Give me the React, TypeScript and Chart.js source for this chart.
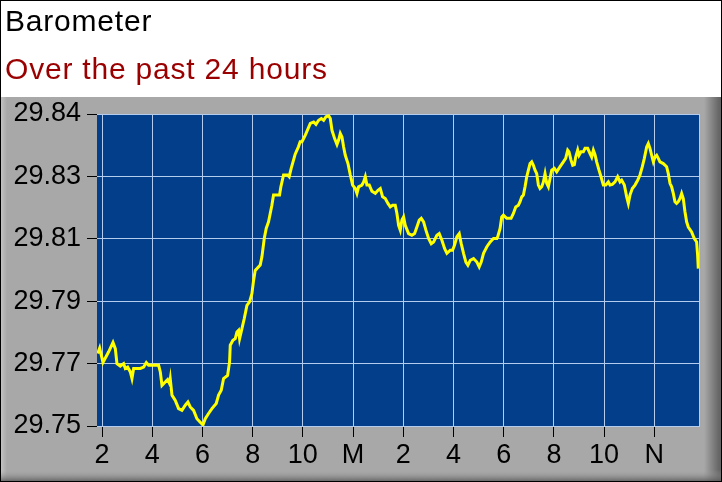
import { useEffect, useRef } from "react"
import { Chart, registerables, type ChartConfiguration, type Plugin } from "chart.js"

Chart.register(...registerables)

// time of reading, in hours since midnight of the first day (24 = midnight)
const hours = [
  13.826, 13.906, 14.038, 14.264, 14.437, 14.529, 14.596, 14.729, 14.861, 14.928,
  15.021, 15.127, 15.193, 15.259, 15.525, 15.658, 15.764, 15.857, 16.056, 16.255,
  16.322, 16.388, 16.52, 16.613, 16.693, 16.719, 16.786, 16.918, 17.051, 17.184,
  17.316, 17.422, 17.515, 17.648, 17.781, 17.913, 18.02, 18.113, 18.245, 18.378,
  18.55, 18.643, 18.749, 18.842, 19.001, 19.081, 19.108, 19.214, 19.307, 19.374,
  19.44, 19.48, 19.573, 19.666, 19.772, 19.878, 19.971, 20.037, 20.103, 20.302,
  20.369, 20.462, 20.54, 20.633, 20.766, 20.832, 21.071, 21.124, 21.23, 21.389,
  21.455, 21.535, 21.628, 21.694, 21.827, 21.893, 21.965, 22.098, 22.297, 22.43,
  22.523, 22.629, 22.735, 22.828, 22.921, 23.027, 23.093, 23.16, 23.266, 23.359,
  23.425, 23.491, 23.558, 23.624, 23.69, 23.797, 23.89, 23.982, 24.089, 24.155,
  24.221, 24.354, 24.42, 24.487, 24.553, 24.646, 24.752, 24.885, 24.991, 25.084,
  25.177, 25.283, 25.389, 25.482, 25.575, 25.681, 25.747, 25.814, 25.88, 25.946,
  26.013, 26.079, 26.212, 26.344, 26.451, 26.543, 26.636, 26.716, 26.809, 26.902,
  27.008, 27.114, 27.207, 27.34, 27.432, 27.539, 27.645, 27.738, 27.871, 27.963,
  28.043, 28.136, 28.229, 28.308, 28.401, 28.494, 28.574, 28.667, 28.799, 28.932,
  29.025, 29.105, 29.197, 29.33, 29.463, 29.595, 29.728, 29.763, 29.856, 29.922,
  29.989, 30.121, 30.294, 30.387, 30.48, 30.586, 30.652, 30.719, 30.785, 30.851,
  30.918, 30.984, 31.05, 31.117, 31.183, 31.249, 31.316, 31.382, 31.448, 31.515,
  31.581, 31.647, 31.714, 31.78, 31.846, 31.913, 32.019, 32.112, 32.245, 32.377,
  32.47, 32.55, 32.603, 32.682, 32.749, 32.815, 32.868, 32.948, 33.001, 33.081,
  33.173, 33.24, 33.346, 33.439, 33.505, 33.572, 33.638, 33.704, 33.797, 33.877,
  33.97, 34.063, 34.169, 34.235, 34.328, 34.434, 34.54, 34.633, 34.7, 34.806,
  34.899, 34.965, 35.031, 35.124, 35.23, 35.337, 35.429, 35.522, 35.602, 35.695,
  35.761, 35.827, 35.894, 35.96, 36.026, 36.093, 36.159, 36.225, 36.358, 36.491,
  36.557, 36.624, 36.69, 36.756, 36.823, 36.889, 36.955, 37.022, 37.088, 37.154,
  37.221, 37.287, 37.353, 37.486, 37.592, 37.685, 37.725, 37.751,
]

// barometer reading, inches of mercury
const pressure = [
  29.7709, 29.7725, 29.7683, 29.7714, 29.7741, 29.7723, 29.768, 29.7673, 29.768, 29.7666,
  29.767, 29.7656, 29.7637, 29.7666, 29.7666, 29.767, 29.7683, 29.7675, 29.7675, 29.7675,
  29.7656, 29.7617, 29.7627, 29.7634, 29.7622, 29.7635, 29.7589, 29.7574, 29.755, 29.7545,
  29.756, 29.7569, 29.7555, 29.7545, 29.7521, 29.7511, 29.7503, 29.7521, 29.7536, 29.755,
  29.7565, 29.7589, 29.7603, 29.7637, 29.7646, 29.7685, 29.7733, 29.7747, 29.7752, 29.7771,
  29.7776, 29.7752, 29.7781, 29.781, 29.7848, 29.7858, 29.7882, 29.792, 29.7949, 29.7964,
  29.7988, 29.8041, 29.807, 29.8089, 29.8137, 29.8166, 29.8166, 29.819, 29.8224, 29.8224,
  29.8219, 29.8243, 29.8267, 29.8284, 29.8306, 29.832, 29.832, 29.8339, 29.8373, 29.8377,
  29.837, 29.8382, 29.8387, 29.8382, 29.8392, 29.8395, 29.8387, 29.8353, 29.8329, 29.8312,
  29.8325, 29.8344, 29.8334, 29.8305, 29.8281, 29.8257, 29.8224, 29.8195, 29.8185, 29.8171,
  29.819, 29.8195, 29.8204, 29.8219, 29.8195, 29.8195, 29.8177, 29.8171, 29.818, 29.8185,
  29.8161, 29.8156, 29.8142, 29.8132, 29.8137, 29.8137, 29.8113, 29.8079, 29.8065, 29.8094,
  29.8103, 29.8079, 29.8055, 29.805, 29.8055, 29.8074, 29.8094, 29.8099, 29.8089, 29.8065,
  29.8041, 29.8026, 29.8031, 29.805, 29.8055, 29.8036, 29.8012, 29.7998, 29.8007, 29.8007,
  29.8022, 29.8046, 29.8055, 29.8026, 29.7998, 29.7973, 29.7964, 29.7978, 29.7983, 29.7973,
  29.7959, 29.7973, 29.7998, 29.8017, 29.8031, 29.8041, 29.8041, 29.8046, 29.807, 29.8103,
  29.8108, 29.8099, 29.8099, 29.8113, 29.8132, 29.8137, 29.8147, 29.8161, 29.8166, 29.819,
  29.8219, 29.8238, 29.8257, 29.8262, 29.8252, 29.8238, 29.8228, 29.8195, 29.8185, 29.819,
  29.8204, 29.8228, 29.82, 29.819, 29.8214, 29.8238, 29.8243, 29.8233, 29.8248, 29.8262,
  29.8272, 29.8296, 29.8291, 29.8267, 29.8252, 29.8254, 29.8276, 29.8296, 29.8281, 29.8291,
  29.8291, 29.8301, 29.8301, 29.8286, 29.8276, 29.8296, 29.8283, 29.8262, 29.8238, 29.8219,
  29.8195, 29.8195, 29.8204, 29.8195, 29.8197, 29.8204, 29.8219, 29.8204, 29.8209, 29.8195,
  29.8161, 29.8142, 29.8166, 29.8185, 29.8195, 29.8209, 29.8224, 29.8248, 29.8272, 29.8305,
  29.8315, 29.8301, 29.8281, 29.8262, 29.8276, 29.8281, 29.8272, 29.8262, 29.8257, 29.8248,
  29.8228, 29.82, 29.819, 29.8171, 29.8147, 29.8142, 29.8147, 29.8156, 29.8171, 29.8156,
  29.8118, 29.8089, 29.8074, 29.806, 29.8041, 29.8031, 29.7993, 29.7954,
]

const xTickHours = [14, 16, 18, 20, 22, 24, 26, 28, 30, 32, 34, 36]
const xTickLabels = ["2", "4", "6", "8", "10", "M", "2", "4", "6", "8", "10", "N"]
const yTickValues = [29.75, 29.768, 29.786, 29.804, 29.822, 29.84]
const yTickLabels = ["29.75", "29.77", "29.79", "29.81", "29.83", "29.84"]

const title = "Barometer"
const subtitle = "Over the past 24 hours"

const W = 722
const H = 482
const FONT = "'Liberation Sans', Arial, sans-serif"
const PLOT_BG = "#033e8a"
const GRID = "#b4cdee"
const PANEL = "#a8a8a8"

// header, grey panel with bevel, blue plot background
const backdrop: Plugin<"line"> = {
  id: "backdrop",
  beforeDraw(chart) {
    const { ctx, chartArea: a } = chart
    ctx.save()
    ctx.fillStyle = "#fff"
    ctx.fillRect(0, 0, W, H)

    ctx.fillStyle = PANEL
    ctx.fillRect(0, 97, W, H - 97)
    let g = ctx.createLinearGradient(0, 0, 7, 0)
    g.addColorStop(0, "#c6c6c6")
    g.addColorStop(1, PANEL)
    ctx.fillStyle = g
    ctx.fillRect(0, 97, 7, H - 97)
    g = ctx.createLinearGradient(704, 0, 719, 0)
    g.addColorStop(0, PANEL)
    g.addColorStop(1, "#666")
    ctx.fillStyle = g
    ctx.fillRect(704, 97, 17, H - 97)
    g = ctx.createLinearGradient(0, 470, 0, 481)
    g.addColorStop(0, "rgba(168,168,168,0)")
    g.addColorStop(1, "rgba(90,90,90,0.8)")
    ctx.fillStyle = g
    ctx.fillRect(0, 470, W, 11)

    ctx.strokeStyle = "#000"
    ctx.lineWidth = 1
    ctx.strokeRect(0.5, 0.5, W - 1, H - 1)

    ctx.fillStyle = PLOT_BG
    ctx.fillRect(a.left, a.top, a.right - a.left, a.bottom - a.top)

    ctx.textAlign = "left"
    ctx.textBaseline = "alphabetic"
    ctx.font = `30px ${FONT}`
    ;(ctx as any).letterSpacing = "0.8px"
    ctx.fillStyle = "#000"
    ctx.fillText(title, 5, 31)
    ctx.fillStyle = "#9b0000"
    ctx.fillText(subtitle, 5, 79)
    ;(ctx as any).letterSpacing = "0px"
    ctx.restore()
  },
  afterDraw(chart) {
    const { ctx, chartArea: a } = chart
    ctx.save()
    ctx.strokeStyle = GRID
    ctx.lineWidth = 1
    ctx.beginPath()
    ctx.moveTo(Math.round(a.right) + 0.5, a.top)
    ctx.lineTo(Math.round(a.right) + 0.5, a.bottom)
    ctx.stroke()
    ctx.restore()
  },
}

export default function App() {
  const canvasRef = useRef<HTMLCanvasElement>(null)
  const chartRef = useRef<Chart | null>(null)

  useEffect(() => {
    document.body.style.margin = "0"
    if (!canvasRef.current) return
    const ctx = canvasRef.current.getContext("2d")
    if (!ctx) return

    if (chartRef.current) chartRef.current.destroy()

    const points = hours.map((h, i) => ({ x: h, y: pressure[i] }))

    const config: ChartConfiguration<"line"> = {
      type: "line",
      data: {
        datasets: [
          {
            label: title,
            data: points,
            borderColor: "#ffff00",
            borderWidth: 3,
            pointRadius: 0,
            tension: 0,
            fill: false,
          },
        ],
      },
      options: {
        responsive: false,
        animation: false,
        layout: { padding: { top: 114, right: 23, left: 0, bottom: 0 } },
        plugins: {
          legend: { display: false },
          tooltip: { enabled: false },
        },
        scales: {
          x: {
            type: "linear",
            min: 13.8,
            max: 37.78,
            afterBuildTicks: (scale) => {
              scale.ticks = xTickHours.map((value) => ({ value }))
            },
            afterFit: (scale) => {
              scale.height = 56
            },
            grid: { color: GRID, tickColor: "#000", tickLength: 11 },
            border: { color: GRID },
            ticks: {
              autoSkip: false,
              maxRotation: 0,
              padding: 2,
              color: "#000",
              font: { family: FONT, size: 27 },
              callback: (_v, i) => xTickLabels[i],
            },
          },
          y: {
            min: 29.75,
            max: 29.84,
            afterBuildTicks: (scale) => {
              scale.ticks = yTickValues.map((value) => ({ value }))
            },
            afterFit: (scale) => {
              scale.width = 97
            },
            grid: { color: GRID, tickColor: "#000", tickLength: 10 },
            border: { display: false },
            ticks: {
              padding: 6,
              color: "#000",
              font: { family: FONT, size: 27 },
              callback: (_v, i) => yTickLabels[i],
            },
          },
        },
      },
      plugins: [backdrop],
    }

    chartRef.current = new Chart(ctx, config)

    return () => {
      if (chartRef.current) {
        chartRef.current.destroy()
        chartRef.current = null
      }
    }
  }, [])

  return (
    <div style={{ width: W, height: H }}>
      <canvas ref={canvasRef} width={W} height={H} style={{ display: "block" }} />
    </div>
  )
}
